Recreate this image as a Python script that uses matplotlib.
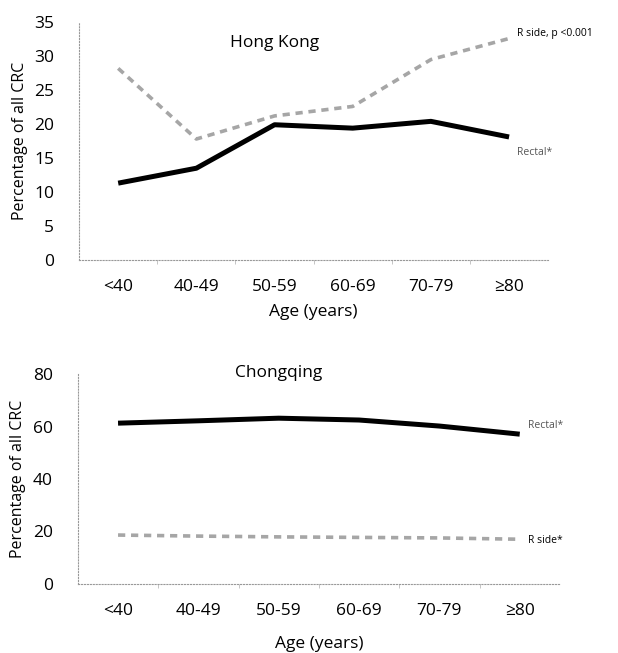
import numpy as np
from matplotlib import pyplot as plt

plt.rcParams['font.family'] = ['Open Sans', 'DejaVu Sans']

edades = ['<40', '40-49', '50-59', '60-69', '70-79', '≥80']

# Hong Kong
hk_rectal = [11.3, 13.5, 19.9, 19.4, 20.4, 18.1]
hk_rside = [28.2, 17.8, 21.2, 22.6, 29.5, 32.6]

# Chongqing
cq_rectal = [61.3, 62.2, 63.2, 62.5, 60.2, 57.1]
cq_rside = [18.6, 18.2, 17.9, 17.7, 17.5, 17.0]

fig = plt.figure(figsize=(6.18, 6.53), dpi=100)
ax1 = fig.add_axes([0.128, 0.602, 0.759, 0.364])
ax2 = fig.add_axes([0.126, 0.106, 0.780, 0.321])

def dibujar(ax, rectal, rside, ymax, paso, titulo, ytit, etiq_rside, etiq_rectal, dy_rside, dy_rectal):
    x = np.arange(len(edades))
    ax.plot(x, rside, color='#a6a6a6', lw=2.6, ls=(0, (2.0, 1.6)), solid_capstyle='butt')
    ax.plot(x, rectal, color='black', lw=3.6, solid_capstyle='butt')
    ax.set_xlim(-0.5, 5.5)
    ax.set_ylim(0, ymax)
    ax.set_yticks(np.arange(0, ymax + 1, paso))
    ax.set_xticks(x)
    ax.set_xticklabels(edades)
    ax.set_xticks(np.arange(0.5, 5.5, 1), minor=True)
    ax.tick_params(axis='both', which='major', length=0, labelsize=12.5, pad=14)
    ax.tick_params(axis='y', pad=18)
    ax.tick_params(axis='x', which='minor', length=3, color='#bbbbbb', direction='out')
    for s in ['top', 'right']:
        ax.spines[s].set_visible(False)
    for s in ['left', 'bottom']:
        ax.spines[s].set_linestyle(':')
        ax.spines[s].set_color('#999999')
        ax.spines[s].set_linewidth(0.8)
    ax.set_xlabel('Age (years)', fontsize=12.5, labelpad=6)
    ax.set_ylabel('Percentage of all CRC', fontsize=11.5)
    ax.text(2.0, ytit, titulo, ha='center', va='center', fontsize=12.5)
    ax.text(5.1, rside[-1] + dy_rside, etiq_rside, fontsize=7.5, va='center', ha='left')
    ax.text(5.1, rectal[-1] + dy_rectal, etiq_rectal, fontsize=7.5, va='center', ha='left', color='#555555')

dibujar(ax1, hk_rectal, hk_rside, 35, 5, 'Hong Kong', 32.0, 'R side, p <0.001', 'Rectal*', 0.8, -2.3)
dibujar(ax2, cq_rectal, cq_rside, 80, 20, 'Chongqing', 80.5, 'R side*', 'Rectal*', -0.5, 3.5)
ax1.yaxis.set_label_coords(-0.11, 0.5)
ax2.yaxis.set_label_coords(-0.107, 0.5)
ax2.xaxis.labelpad = 12

fig.savefig('out.png', dpi=100)
